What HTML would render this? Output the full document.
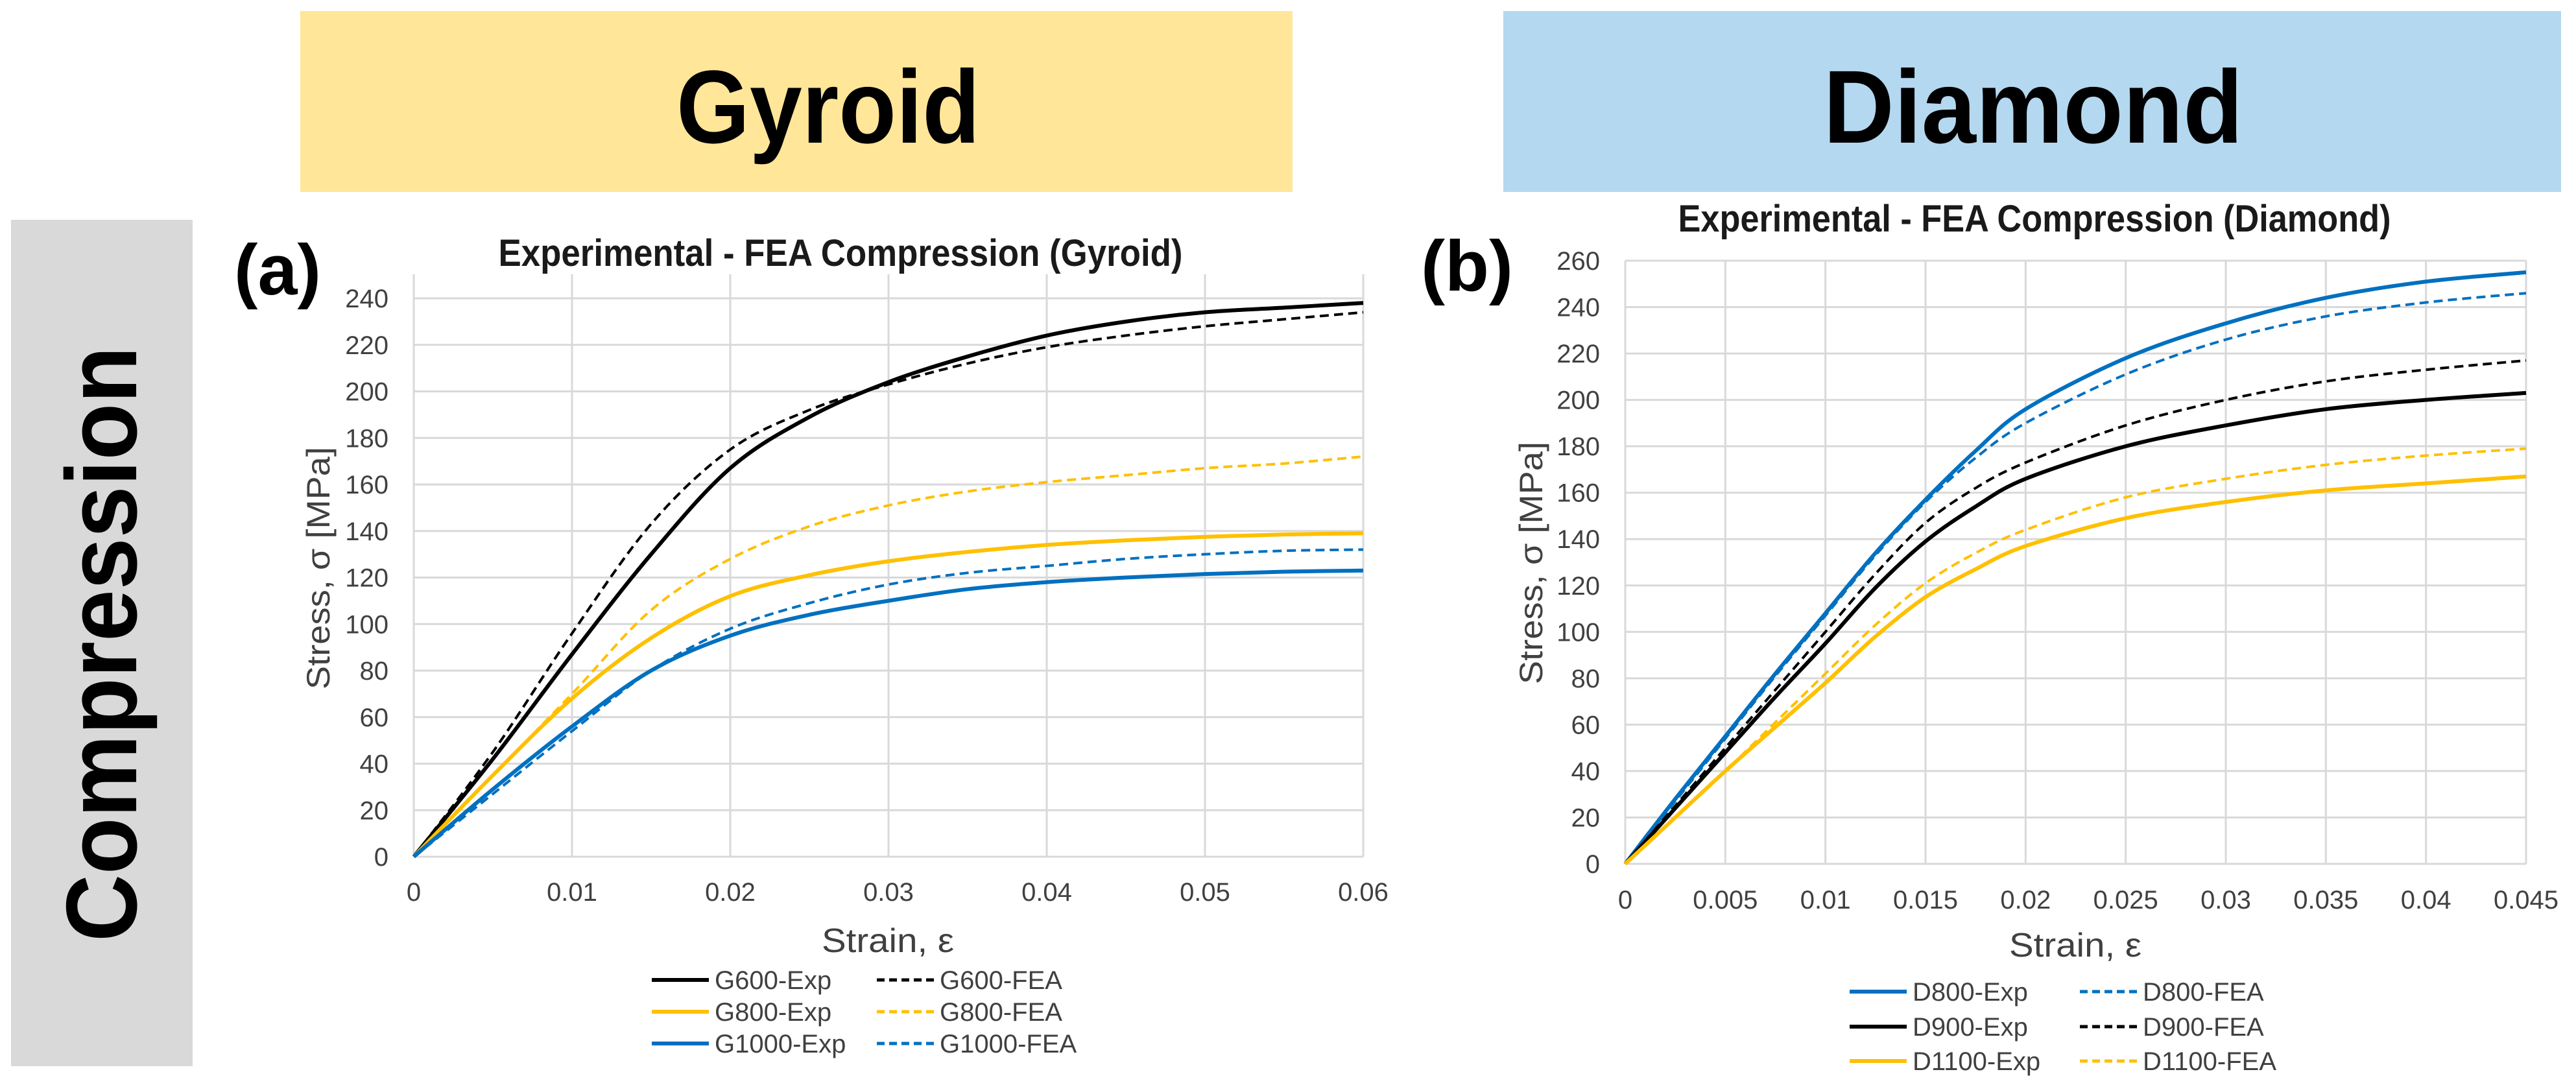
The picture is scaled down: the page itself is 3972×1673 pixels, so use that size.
<!DOCTYPE html>
<html><head><meta charset="utf-8"><style>
html,body{margin:0;padding:0;background:#fff;}
svg{display:block;font-family:"Liberation Sans",sans-serif;}
</style></head><body>
<svg id="fig" width="3972" height="1673" viewBox="0 0 3972 1673" xmlns="http://www.w3.org/2000/svg">
<rect x="463" y="17" width="1530" height="279" fill="#FFE699"/>
<text x="1277" y="220" font-size="160" font-weight="bold" text-anchor="middle" textLength="468" lengthAdjust="spacingAndGlyphs">Gyroid</text>
<rect x="2318" y="17" width="1631" height="279" fill="#B4D8EF"/>
<text x="3135" y="220" font-size="160" font-weight="bold" text-anchor="middle" textLength="647" lengthAdjust="spacingAndGlyphs">Diamond</text>
<rect x="17" y="339" width="280" height="1305" fill="#D9D9D9"/>
<text transform="translate(210,993) rotate(-90)" font-size="155" font-weight="bold" text-anchor="middle" textLength="918" lengthAdjust="spacingAndGlyphs">Compression</text>
<text x="361" y="454" font-size="110" font-weight="bold" textLength="134" lengthAdjust="spacingAndGlyphs">(a)</text>
<text x="2191" y="448" font-size="110" font-weight="bold" textLength="142" lengthAdjust="spacingAndGlyphs">(b)</text>
<g id="chartA"></g>
<g id="chartB"></g>
</svg>
<script>
// ---- Chart A data (Gyroid) ----
const strainA = [0,0.005,0.01,0.015,0.02,0.025,0.03,0.035,0.04,0.045,0.05,0.055,0.06];
const g600Exp = [0,42,87,130,167,189,204,215,224,230,234,236,238];
const g600Fea = [0,45,96,143,175,192,203,212,219,224,228,231,234];
const g800Exp = [0,35,68,94,112,121,127,131,134,136,137.5,138.5,139];
const g800Fea = [0,35,70,106,128,142,151,157,161,164,167,169,172];
const g1000Exp = [0,29,56,80,95,104,110,115,118,120,121.5,122.5,123];
const g1000Fea = [0,27,54,80,98,109,117,122,125,128,130,131.5,132];
const xTicksA = ["0","0.01","0.02","0.03","0.04","0.05","0.06"];
const yTicksA = ["0","20","40","60","80","100","120","140","160","180","200","220","240"];
// ---- Chart B data (Diamond) ----
const strainB = [0,0.0025,0.005,0.0075,0.01,0.0125,0.015,0.0175,0.02,0.025,0.03,0.035,0.04,0.045];
const d800Exp = [0,28,55,82,108,134,157,178,196,218,233,244,251,255];
const d800Fea = [0,27,54,81,107,133,156,175,190,211,226,236,242,246];
const d900Exp = [0,24,48,72,95,119,139,154,166,180,189,196,200,203];
const d900Fea = [0,25,50,75,100,125,147,162,173,189,200,208,213,217];
const d1100Exp = [0,20,40,59,78,98,115,127,137,149,156,161,164,167];
const d1100Fea = [0,20,40,61,82,103,121,134,144,158,166,172,176,179];
const xTicksB = ["0","0.005","0.01","0.015","0.02","0.025","0.03","0.035","0.04","0.045"];
const yTicksB = ["0","20","40","60","80","100","120","140","160","180","200","220","240","260"];

const NS="http://www.w3.org/2000/svg";
function mk(parent,tag,attrs,text){const e=document.createElementNS(NS,tag);for(const k in attrs)e.setAttribute(k,attrs[k]);if(text!==undefined)e.textContent=text;parent.appendChild(e);return e;}
function smooth(pts){let d="M"+pts[0][0]+","+pts[0][1];for(let i=0;i<pts.length-1;i++){const p0=pts[Math.max(0,i-1)],p1=pts[i],p2=pts[i+1],p3=pts[Math.min(pts.length-1,i+2)];const c1x=p1[0]+(p2[0]-p0[0])/6,c1y=p1[1]+(p2[1]-p0[1])/6,c2x=p2[0]-(p3[0]-p1[0])/6,c2y=p2[1]-(p3[1]-p1[1])/6;d+=" C"+c1x+","+c1y+" "+c2x+","+c2y+" "+p2[0]+","+p2[1];}return d;}

function chart(g,cfg){
  const sx=v=>cfg.x0+(v-cfg.xmin)/(cfg.xmax-cfg.xmin)*(cfg.x1-cfg.x0);
  const sy=v=>cfg.y0-(v-cfg.ymin)/(cfg.ymax-cfg.ymin)*(cfg.y0-cfg.y1);
  cfg.yTicks.forEach(t=>{const y=sy(parseFloat(t));
    const gl=mk(g,"line",{x1:cfg.x0,x2:cfg.x1,y1:y,y2:y,stroke:"#D9D9D9","stroke-width":3});
    
    
    const tl=mk(g,"text",{x:cfg.yLabX,y:y+14,"font-size":40,fill:"#404040","text-anchor":"end"},t);
    
    
  });
  cfg.xTicks.forEach(t=>{const x=sx(parseFloat(t));
    const gl=mk(g,"line",{x1:x,x2:x,y1:cfg.top,y2:cfg.y0,stroke:"#D9D9D9","stroke-width":3});
    
    
    const tl=mk(g,"text",{x:x,y:cfg.xLabY+14,"font-size":40,fill:"#404040","text-anchor":"middle"},t);
    
    
  });
  cfg.series.forEach(s=>{
    const pts=cfg.xs.map((v,i)=>[sx(v),sy(s.data[i])]);
    const p=mk(g,"path",{d:smooth(pts),fill:"none",stroke:s.color,"stroke-width":s.dash?4:6,"stroke-dasharray":s.dash?"14,8":"none","stroke-linejoin":"round"});
    
    
  });
  const tt=mk(g,"text",{x:cfg.titleX,y:cfg.titleY,"font-size":58,"font-weight":"bold",fill:"#1a1a1a","text-anchor":"middle",textLength:cfg.titleW,lengthAdjust:"spacingAndGlyphs"},cfg.title);
  
  
  const yt=mk(g,"text",{transform:"translate("+cfg.yTitleX+","+cfg.yTitleY+") rotate(-90)","font-size":50,fill:"#404040","text-anchor":"middle",textLength:374,lengthAdjust:"spacingAndGlyphs"},"Stress, σ [MPa]");
  
  
  const xt=mk(g,"text",{x:cfg.xTitleX,y:cfg.xTitleY,"font-size":52,fill:"#404040","text-anchor":"middle",textLength:204,lengthAdjust:"spacingAndGlyphs"},"Strain, ε");
  
  
  cfg.legend.forEach(l=>{
    const s=cfg.series[l.i];
    const ln=mk(g,"line",{x1:l.lx,x2:l.lx+88,y1:l.y,y2:l.y,stroke:s.color,"stroke-width":s.dash?5:6,"stroke-dasharray":s.dash?"12,7":"none"});
    
    
    const lt=mk(g,"text",{x:l.lx+97,y:l.y+14,"font-size":40,fill:"#404040"},s.name);
    
    
  });
}
const BLK="#000000",GLD="#FFC000",BLU="#0070C0";
chart(document.getElementById("chartA"),{
  x0:638,x1:2102,xmin:0,xmax:0.06,y0:1321,y1:460,ymin:0,ymax:240,top:423,
  xs:strainA,xTicks:xTicksA,yTicks:yTicksA,yLabX:599,xLabY:1375,
  title:"Experimental - FEA Compression (Gyroid)",titleX:1296,titleY:410,titleW:1055,
  yTitleX:508,yTitleY:876,xTitleX:1369,xTitleY:1468,
  series:[
    {name:"G600-Exp",data:g600Exp,color:BLK},
    {name:"G600-FEA",data:g600Fea,color:BLK,dash:true},
    {name:"G800-Exp",data:g800Exp,color:GLD},
    {name:"G800-FEA",data:g800Fea,color:GLD,dash:true},
    {name:"G1000-Exp",data:g1000Exp,color:BLU},
    {name:"G1000-FEA",data:g1000Fea,color:BLU,dash:true}],
  legend:[{i:0,lx:1005,y:1511},{i:1,lx:1352,y:1511},{i:2,lx:1005,y:1560},{i:3,lx:1352,y:1560},{i:4,lx:1005,y:1609},{i:5,lx:1352,y:1609}]
});
chart(document.getElementById("chartB"),{
  x0:2506,x1:3895,xmin:0,xmax:0.045,y0:1332,y1:402,ymin:0,ymax:260,top:402,
  xs:strainB,xTicks:xTicksB,yTicks:yTicksB,yLabX:2467,xLabY:1387,
  title:"Experimental - FEA Compression (Diamond)",titleX:3137,titleY:357,titleW:1099,
  yTitleX:2378,yTitleY:868,xTitleX:3200,xTitleY:1475,
  series:[
    {name:"D800-Exp",data:d800Exp,color:BLU},
    {name:"D800-FEA",data:d800Fea,color:BLU,dash:true},
    {name:"D900-Exp",data:d900Exp,color:BLK},
    {name:"D900-FEA",data:d900Fea,color:BLK,dash:true},
    {name:"D1100-Exp",data:d1100Exp,color:GLD},
    {name:"D1100-FEA",data:d1100Fea,color:GLD,dash:true}],
  legend:[{i:0,lx:2852,y:1529},{i:1,lx:3207,y:1529},{i:2,lx:2852,y:1583},{i:3,lx:3207,y:1583},{i:4,lx:2852,y:1636},{i:5,lx:3207,y:1636}]
});
</script>
</body></html>
